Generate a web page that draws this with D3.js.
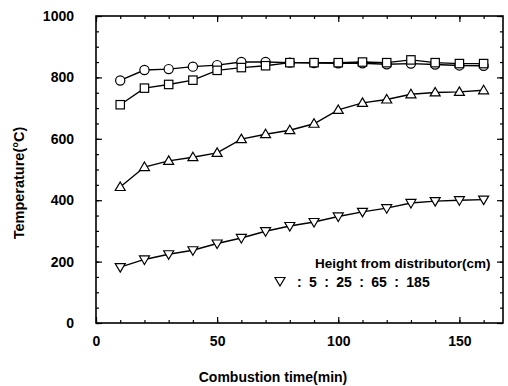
<!DOCTYPE html>
<html>
<head>
<meta charset="utf-8">
<script src="https://cdn.jsdelivr.net/npm/d3@7"></script>
<style>
  body { margin: 0; background: #fff; }
  text { font-family: "Liberation Sans", Arial, sans-serif; font-weight: bold; fill: #000; }
</style>
</head>
<body>
<script>
// data (x = combustion time, min)
var times = [10, 20, 30, 40, 50, 60, 70, 80, 90, 100, 110, 120, 130, 140, 150, 160];
var circleTemps = [790, 824, 827, 835, 840, 850, 850, 848, 847, 846, 846, 843, 845, 842, 839, 838];
var squareTemps = [711, 765, 777, 791, 823, 832, 838, 848, 848, 848, 850, 848, 857, 848, 845, 845];
var upTriTemps  = [443, 508, 528, 540, 554, 599, 615, 628, 649, 694, 717, 728, 745, 751, 753, 758];
var downTriTemps = [182, 207, 224, 237, 259, 277, 299, 316, 329, 347, 362, 374, 391, 397, 400, 402];

var xMajor = [0, 50, 100, 150];
var yMajor = [0, 200, 400, 600, 800, 1000];

var W = 508, H = 386;
// plot box (note: "top" is reserved on window, so use pL/pR/pT/pB)
var pL = 96, pR = 503, pT = 16, pB = 323;

var svg = d3.select("body").append("svg")
	.attr("width", W)
	.attr("height", H);

var x = d3.scaleLinear().domain([0, 168]).range([pL, pR]);
var y = d3.scaleLinear().domain([0, 1000]).range([pB, pT]);

// axes: ticks point inward on all four sides
var xMinor = d3.range(0, 169, 10);
var yMinor = d3.range(0, 1001, 50);

function addAxis(axis, tx, ty) {
	var g = svg.append("g").attr("transform", "translate(" + tx + "," + ty + ")").call(axis);
	g.select(".domain").remove();
	g.selectAll("line").attr("stroke", "#000").attr("stroke-width", 1.2);
	return g;
}

// minor ticks
addAxis(d3.axisBottom(x).tickValues(xMinor).tickSize(-3).tickFormat(""), 0, pB);
addAxis(d3.axisTop(x).tickValues(xMinor).tickSize(-3).tickFormat(""), 0, pT);
addAxis(d3.axisLeft(y).tickValues(yMinor).tickSize(-3).tickFormat(""), pL, 0);
addAxis(d3.axisRight(y).tickValues(yMinor).tickSize(-3).tickFormat(""), pR, 0);

// major ticks + labels
var gx = addAxis(d3.axisBottom(x).tickValues(xMajor).tickSize(-6).tickPadding(13).tickFormat(d3.format("d")), 0, pB);
gx.selectAll("text").attr("font-size", 14).attr("font-family", null);
addAxis(d3.axisTop(x).tickValues(xMajor).tickSize(-6).tickFormat(""), 0, pT);
var gy = addAxis(d3.axisLeft(y).tickValues(yMajor).tickSize(-6).tickPadding(22).tickFormat(d3.format("d")), pL, 0);
gy.selectAll("text").attr("font-size", 14).attr("font-family", null);
addAxis(d3.axisRight(y).tickValues(yMajor).tickSize(-6).tickFormat(""), pR, 0);

// frame
svg.append("rect")
	.attr("x", pL).attr("y", pT)
	.attr("width", pR - pL).attr("height", pB - pT)
	.attr("fill", "none").attr("stroke", "#000").attr("stroke-width", 1.6);

// axis titles
svg.append("text")
	.attr("x", 273).attr("y", 382)
	.attr("text-anchor", "middle").attr("font-size", 14)
	.text("Combustion time(min)");
svg.append("text")
	.attr("transform", "translate(24,183) rotate(-90)")
	.attr("text-anchor", "middle").attr("font-size", 14.5)
	.text("Temperature(\u00B0C)");

var line = d3.line().x(function (d) { return x(d[0]); }).y(function (d) { return y(d[1]); });

var series = [
	{ vals: circleTemps, shape: "circle" },
	{ vals: squareTemps, shape: "square" },
	{ vals: upTriTemps, shape: "up" },
	{ vals: downTriTemps, shape: "down" }
];

function drawMarker(g, shape, cx, cy) {
	if (shape == "circle") {
		g.append("circle").attr("cx", cx).attr("cy", cy).attr("r", 4.6)
			.attr("fill", "#fff").attr("stroke", "#000").attr("stroke-width", 1.2);
	} else if (shape == "square") {
		g.append("rect").attr("x", cx - 4.2).attr("y", cy - 4.2).attr("width", 8.4).attr("height", 8.4)
			.attr("fill", "#fff").attr("stroke", "#000").attr("stroke-width", 1.2);
	} else {
		var s = shape == "up" ? 1 : -1;
		var pts = [[cx, cy - 5 * s], [cx + 5, cy + 3.5 * s], [cx - 5, cy + 3.5 * s]];
		g.append("polygon").attr("points", pts.map(function (p) { return p.join(","); }).join(" "))
			.attr("fill", "#fff").attr("stroke", "#000").attr("stroke-width", 1.2);
	}
}

series.forEach(function (s) {
	var pts = times.map(function (t, i) { return [t, s.vals[i]]; });
	svg.append("path").attr("d", line(pts))
		.attr("fill", "none").attr("stroke", "#000").attr("stroke-width", 1.4);
});
series.forEach(function (s) {
	var g = svg.append("g");
	times.forEach(function (t, i) {
		drawMarker(g, s.shape, x(t), y(s.vals[i]));
	});
});

// legend (only the down triangle survives in the original)
svg.append("text")
	.attr("x", 315).attr("y", 268).attr("font-size", 13.5)
	.text("Height from distributor(cm)");
drawMarker(svg.append("g"), "down", 280, 281);
svg.append("text")
	.attr("x", 297).attr("y", 287).attr("font-size", 14)
	.attr("word-spacing", 3.5)
	.text(": 5 : 25 : 65 : 185");
</script>
</body>
</html>
